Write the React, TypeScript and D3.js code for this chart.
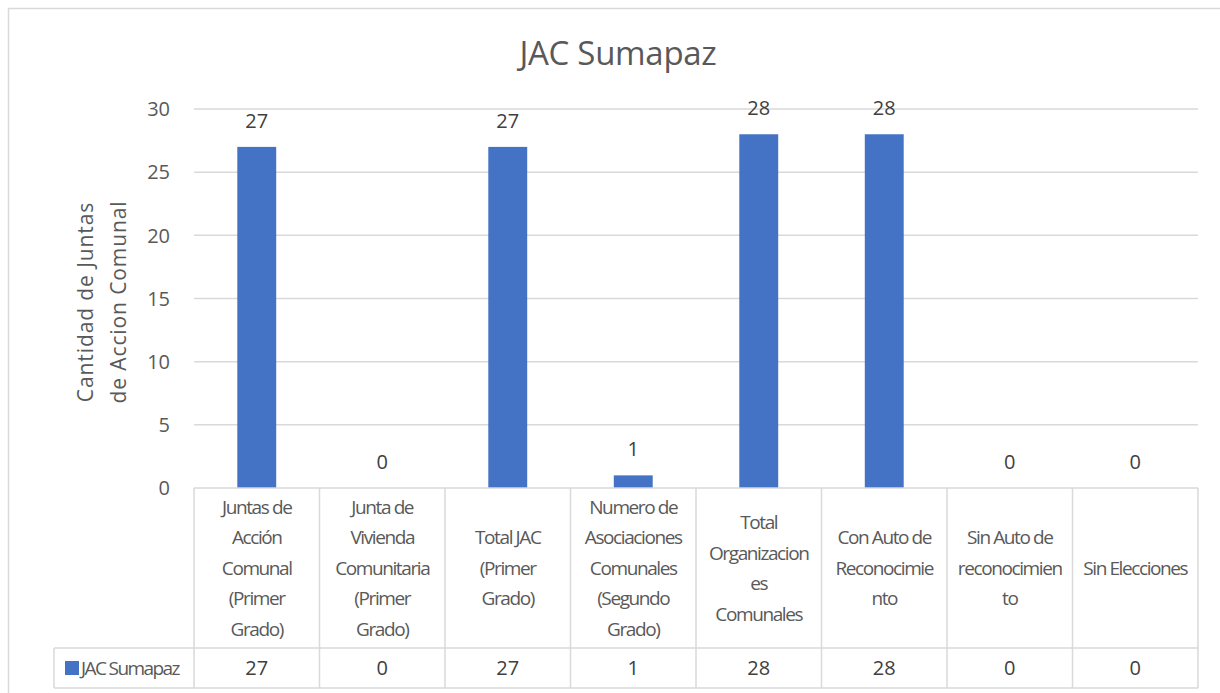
import { useMemo } from "react";
import * as d3 from "d3";

// Data
const categories: string[][] = [
  ["Juntas de", "Acción", "Comunal", "(Primer", "Grado)"],
  ["Junta de", "Vivienda", "Comunitaria", "(Primer", "Grado)"],
  ["Total JAC", "(Primer", "Grado)"],
  ["Numero de", "Asociaciones", "Comunales", "(Segundo", "Grado)"],
  ["Total", "Organizacion", "es", "Comunales"],
  ["Con Auto de", "Reconocimie", "nto"],
  ["Sin Auto de", "reconocimien", "to"],
  ["Sin Elecciones"],
];
const values = [27, 0, 27, 1, 28, 28, 0, 0];
const seriesName = "JAC Sumapaz";
const chartTitle = "JAC Sumapaz";
const yTitle = ["Cantidad de Juntas", "de Accion Comunal"];
const yTicks = [0, 5, 10, 15, 20, 25, 30];

const W = 1220;
const H = 693;
const m = { left: 194, right: 1198, top: 109, bottom: 488 };
const headerBottom = 648;
const tableBottom = 688;
const legendLeft = 54;

const textColor = "#595959";
const gridColor = "#d9d9d9";
const barColor = "#4472C4";
const font = "'Open Sans', 'DejaVu Sans', sans-serif";

export default function App() {
  const idx = values.map((_, i) => i);

  const x = useMemo(
    () =>
      d3
        .scaleBand<number>()
        .domain(idx)
        .range([m.left, m.right])
        .paddingInner(0.69)
        .paddingOuter(0.345),
    []
  );
  const y = useMemo(
    () => d3.scaleLinear().domain([0, 30]).range([m.bottom, m.top]),
    []
  );

  const step = x.step();
  const colEdges = d3.range(values.length + 1).map((i) => m.left + i * step);
  const lineH = 30.5;
  const headerMid = (m.bottom + headerBottom) / 2;

  return (
    <svg
      width={W}
      height={H}
      style={{ position: "absolute", left: 0, top: 0, background: "#fff" }}
      fontFamily={font}
    >
      <rect x={0} y={0} width={W} height={H} fill="#fff" />
      {/* outer chart frame */}
      <rect
        x={8.5}
        y={8.5}
        width={W + 10}
        height={H + 10}
        fill="none"
        stroke={gridColor}
        strokeWidth={1.5}
      />

      {/* title */}
      <text
        x={618}
        y={65}
        textAnchor="middle"
        fontSize={33}
        fill={textColor}
        letterSpacing={-0.3}
      >
        {chartTitle}
      </text>

      {/* grid */}
      {yTicks.map((t) => (
        <g key={t}>
          {t > 0 && (
            <line
              x1={m.left}
              x2={m.right}
              y1={y(t)}
              y2={y(t)}
              stroke={gridColor}
              strokeWidth={1.5}
            />
          )}
          <text
            x={170}
            y={y(t)}
            dy="0.36em"
            textAnchor="end"
            fontSize={20}
            fill={textColor}
          >
            {t}
          </text>
        </g>
      ))}

      {/* y axis title */}
      <g transform={`translate(0,302) rotate(-90)`}>
        {yTitle.map((s, i) => (
          <text
            key={i}
            x={0}
            y={93 + i * 33}
            textAnchor="middle"
            fontSize={21}
            fill={textColor}
            letterSpacing={0.9}
          >
            {s}
          </text>
        ))}
      </g>

      {/* bars */}
      {values.map((v, i) => (
        <rect
          key={i}
          x={x(i)!}
          y={y(v)}
          width={x.bandwidth()}
          height={y(0) - y(v)}
          fill={barColor}
        />
      ))}

      {/* data labels */}
      {values.map((v, i) => (
        <text
          key={i}
          x={x(i)! + x.bandwidth() / 2}
          y={y(v) - 19}
          textAnchor="middle"
          fontSize={20}
          fill="#404040"
        >
          {v}
        </text>
      ))}

      {/* data table */}
      <g stroke={gridColor} strokeWidth={1.5}>
        <line x1={m.left} x2={m.right} y1={m.bottom} y2={m.bottom} />
        <line x1={legendLeft} x2={m.right} y1={headerBottom} y2={headerBottom} />
        <line x1={legendLeft} x2={m.right} y1={tableBottom} y2={tableBottom} />
        <line x1={legendLeft} x2={legendLeft} y1={headerBottom} y2={tableBottom} />
        {colEdges.map((cx, i) => (
          <line key={i} x1={cx} x2={cx} y1={m.bottom} y2={tableBottom} />
        ))}
      </g>

      {categories.map((lines, i) => {
        const cx = x(i)! + x.bandwidth() / 2;
        const y0 = headerMid - ((lines.length - 1) * lineH) / 2;
        return (
          <text
            key={i}
            textAnchor="middle"
            fontSize={19}
            fill={textColor}
            letterSpacing={-1.4}
          >
            {lines.map((s, j) => (
              <tspan key={j} x={cx} y={y0 + j * lineH} dy="0.36em">
                {s}
              </tspan>
            ))}
          </text>
        );
      })}

      {values.map((v, i) => (
        <text
          key={i}
          x={x(i)! + x.bandwidth() / 2}
          y={(headerBottom + tableBottom) / 2}
          dy="0.36em"
          textAnchor="middle"
          fontSize={20}
          fill="#404040"
        >
          {v}
        </text>
      ))}

      {/* legend key */}
      <rect x={65} y={661} width={14} height={14} fill={barColor} />
      <text
        x={81}
        y={668}
        dy="0.36em"
        fontSize={19}
        fill={textColor}
        letterSpacing={-1.6}
      >
        {seriesName}
      </text>
    </svg>
  );
}
